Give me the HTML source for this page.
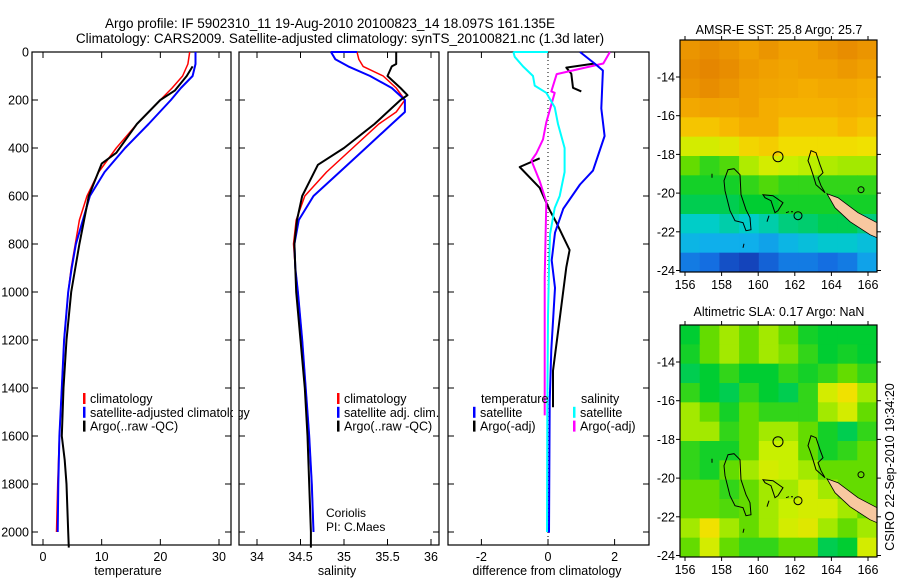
<!DOCTYPE html>
<html><head><meta charset="utf-8"><style>
body{margin:0;background:#fff}
svg{display:block;font-family:"Liberation Sans",sans-serif}
</style></head><body>
<svg id="fig" width="900" height="580" viewBox="0 0 900 580">
<text x="330" y="28" font-size="13.5" text-anchor="middle">Argo profile: IF 5902310_11 19-Aug-2010 20100823_14 18.097S 161.135E</text>
<text x="340" y="43" font-size="13.5" text-anchor="middle">Climatology: CARS2009. Satellite-adjusted climatology: synTS_20100821.nc (1.3d later)</text>
<text x="779" y="34" font-size="12.5" text-anchor="middle">AMSR-E SST: 25.8 Argo: 25.7</text>
<text x="779" y="316" font-size="12.5" text-anchor="middle">Altimetric SLA: 0.17 Argo: NaN</text>
<text transform="translate(894,467) rotate(-90)" font-size="12.5" text-anchor="middle">CSIRO 22-Sep-2010 19:34:20</text>
<text x="326" y="517" font-size="12">Coriolis</text>
<text x="326" y="531" font-size="12">PI: C.Maes</text>
</svg>
<script>
// ---------- data ----------
const depthTicks=[0,200,400,600,800,1000,1200,1400,1600,1800,2000];
const tempTicks=[0,10,20,30];
const salTicks=[34,34.5,35,35.5,36];
const salTickLabels=["34","34.5","35","35.5","36"];
const diffTicks=[-2,0,2];
const lonTicks=[156,158,160,162,164,166];
const latTicks=[-14,-16,-18,-20,-22,-24];

const tClimDepth=[0,50,100,150,200,300,400,500,600,700,800,900,1000,1200,1400,1600,1800,2000];
const tClim=[25,24.7,23.8,22,20,16,12.5,9.5,7.5,6.2,5.5,4.8,4.3,3.6,3.2,2.8,2.5,2.3];
const tSat=[26,26,25.5,23.5,21.8,18,14,10.5,8,6.8,5.6,4.9,4.3,3.6,3.2,2.8,2.6,2.5];
const tArgoDepth=[60,100,160,200,300,420,465,600,700,800,900,1000,1200,1400,1600,1700,1800,2000,2065];
const tArgo=[25.5,24.5,22.5,20,16,12.5,10,7.8,7,6.2,5.5,4.8,4,3.5,3.2,3.7,4,4.3,4.4];

const sDepth=[0,30,60,100,150,200,250,300,400,500,600,700,800,900,1000,1200,1400,1600,1800,2000];
const sClim=[35.15,35.17,35.22,35.45,35.6,35.7,35.6,35.4,35.1,34.8,34.55,34.45,34.42,34.44,34.47,34.52,34.56,34.6,34.63,34.65];
const sSat=[34.85,34.9,35.05,35.3,35.55,35.7,35.7,35.55,35.25,34.95,34.65,34.48,34.43,34.44,34.47,34.52,34.56,34.6,34.63,34.65];
const sArgoDepth=[0,50,60,100,150,180,200,300,400,470,600,700,800,1000,1200,1400,1600,1800,2000,2065];
const sArgo=[35.6,35.6,35.55,35.5,35.65,35.73,35.65,35.35,35.0,34.7,34.52,34.46,34.43,34.45,34.5,34.55,34.58,34.6,34.62,34.62];

const dSalSatDepth=[0,20,60,100,140,170,230,300,400,500,600,650,760,900,1100,1500,2000];
const dSalSat=[-1.04,-1.0,-0.75,-0.45,-0.4,-0.05,0.2,0.3,0.5,0.5,0.35,0.2,0.06,0.03,0.0,-0.02,-0.03];
const dSalArgoDepth=[0,48,92,164,170,293,364,423,452,538,624,940,1514];
const dSalArgo=[1.86,1.66,0.26,0.1,0.2,-0.05,-0.15,-0.35,-0.5,-0.25,-0.05,-0.1,-0.1];
const dTempSatDepth=[0,48,77,235,350,494,552,653,753,868,983,1241,1457,2003];
const dTempSat=[0.96,1.4,1.65,1.6,1.7,1.35,0.96,0.46,0.21,0.11,0.21,0.1,0.05,0.03];
const dTempArgoDepth=[48,65,91,149,164,415,443,479,566,659,710,782,825,897,1112,1328,1480];
const dTempArgo=[1.4,0.55,0.7,0.75,1.0,null,-0.25,-0.85,-0.25,0.05,0.25,0.5,0.65,0.55,0.35,0.15,0.15];

const sstGrid=[
[.88,.9,.88,.85,.88,.85,.85,.88,.9,.88],
[.9,.92,.9,.87,.85,.83,.85,.85,.87,.85],
[.88,.9,.88,.85,.83,.82,.8,.82,.82,.8],
[.82,.84,.83,.85,.8,.78,.78,.78,.8,.78],
[.72,.72,.75,.8,.8,.72,.72,.72,.75,.72],
[.6,.6,.62,.68,.7,.66,.66,.66,.66,.65],
[.5,.45,.48,.56,.6,.58,.57,.56,.55,.55],
[.42,.42,.42,.45,.48,.45,.45,.45,.45,.45],
[.38,.38,.38,.4,.4,.42,.42,.42,.42,.42],
[.3,.3,.32,.3,.32,.35,.36,.38,.38,.35],
[.22,.2,.2,.2,.18,.22,.25,.28,.28,.25],
[.12,.1,.05,.03,.08,.12,.12,.1,.12,.18]];
const slaGrid=[
[.4,.5,.55,.5,.55,.5,.42,.4,.4,.4],
[.42,.5,.55,.5,.55,.52,.45,.4,.42,.4],
[.38,.4,.45,.4,.4,.45,.42,.45,.5,.45],
[.45,.4,.38,.45,.4,.38,.45,.6,.65,.55],
[.55,.5,.42,.5,.45,.45,.45,.55,.6,.5],
[.55,.55,.45,.5,.55,.55,.5,.42,.38,.45],
[.45,.42,.42,.5,.58,.58,.5,.42,.45,.5],
[.45,.42,.5,.55,.6,.58,.55,.5,.5,.5],
[.5,.5,.45,.5,.55,.55,.6,.55,.5,.5],
[.5,.5,.48,.5,.55,.58,.6,.6,.55,.5],
[.55,.65,.55,.5,.55,.6,.62,.55,.5,.55],
[.5,.6,.5,.45,.45,.5,.5,.38,.4,.6]];

// ---------- helpers ----------
const NS="http://www.w3.org/2000/svg";
const svg=document.getElementById('fig');
function mk(tag,attrs,parent){const e=document.createElementNS(NS,tag);for(const k in attrs)e.setAttribute(k,attrs[k]);(parent||svg).appendChild(e);return e;}
const Y0=52,YS=0.24,YB=545;
const yD=d=>Y0+d*YS;
const xT=v=>43+v*5.867;
const xS=v=>257+(v-34)*87;
const xDf=v=>548+v*33.3;

function frame(x1,x2,name){
  const r=mk('rect',{x:x1,y:Y0,width:x2-x1,height:YB-Y0,fill:'none',stroke:'#000','stroke-width':1.2});
  
  
  depthTicks.forEach(d=>{
    const y=yD(d);
    mk('line',{x1:x1,x2:x1+6,y1:y,y2:y,stroke:'#000'});
    mk('line',{x1:x2,x2:x2-6,y1:y,y2:y,stroke:'#000'});
  });
}
function xticks(x1,ticks,labels,fx,name){
  ticks.forEach((v,i)=>{
    const x=fx(v);
    mk('line',{x1:x,x2:x,y1:YB,y2:YB-6,stroke:'#000'});
    mk('line',{x1:x,x2:x,y1:Y0,y2:Y0+6,stroke:'#000'});
    const t=mk('text',{x:x,y:561,'font-size':12.5,'text-anchor':'middle'});
    t.textContent=labels[i];
    
    
  });
}
function series(depths,vals,fx,color,w,name,dash){
  let d='',pen=false;
  vals.forEach((v,i)=>{
    if(v===null){pen=false;return;}
    d+=(pen?'L':'M')+fx(v).toFixed(1)+','+yD(depths[i]).toFixed(1);pen=true;
  });
  const p=mk('path',{d:d,fill:'none',stroke:color,'stroke-width':w,'stroke-linejoin':'round'});
  if(dash)p.setAttribute('stroke-dasharray',dash);
  
  
}
function legend(x,y,entries,name){
  entries.forEach((e,i)=>{
    const yy=y+i*13.8;
    mk('rect',{x:x,y:yy-10,width:2.5,height:11,fill:e[0]});
    const t=mk('text',{x:x+7,y:yy,'font-size':12.5});
    t.textContent=e[1];
    
    
  });
}

depthTicks.forEach(d=>{
  const t=mk('text',{x:29,y:yD(d)+4.5,'font-size':12.5,'text-anchor':'end'});
  t.textContent=d;
  
  
});

// panel 1
frame(32,231,'temperature-panel');
xticks(32,tempTicks,tempTicks.map(String),xT,'temperature');
series(tClimDepth,tClim,xT,'#f00',1.5,'temp-climatology-line');
series(tClimDepth,tSat,xT,'#00f',2,'temp-satellite-line');
series(tArgoDepth,tArgo,xT,'#000',2,'temp-argo-line');
legend(83,403,[['#f00','climatology'],['#00f','satellite-adjusted climatology'],['#000','Argo(..raw -QC)']],'temp-legend');
let lbl=mk('text',{x:128,y:575,'font-size':12.5,'text-anchor':'middle'});lbl.textContent='temperature';



// panel 2
mk('rect',{x:233,y:52,width:6,height:494,fill:'#fff'});
frame(239,439,'salinity-panel');
xticks(239,salTicks,salTickLabels,xS,'salinity');
series(sDepth,sClim,xS,'#f00',1.5,'sal-climatology-line');
series(sDepth,sSat,xS,'#00f',2,'sal-satellite-line');
series(sArgoDepth,sArgo,xS,'#000',2,'sal-argo-line');
mk('line',{x1:xS(34.85),x2:xS(35.15),y1:yD(0),y2:yD(0),stroke:'#00f','stroke-width':2});
legend(337,403,[['#f00','climatology'],['#00f','satellite adj. clim.'],['#000','Argo(..raw -QC)']],'sal-legend');
lbl=mk('text',{x:337,y:575,'font-size':12.5,'text-anchor':'middle'});lbl.textContent='salinity';



// panel 3
frame(448,649,'difference-panel');
xticks(448,diffTicks,diffTicks.map(String),xDf,'difference');
mk('line',{x1:xDf(0),x2:xDf(0),y1:Y0,y2:YB,stroke:'#000','stroke-dasharray':'1,3'});
series(dTempArgoDepth,dTempArgo,xDf,'#000',2,'diff-temp-argo-line');
series(dSalArgoDepth,dSalArgo,xDf,'#f0f',2,'diff-sal-argo-line');
series(dSalSatDepth,dSalSat,xDf,'#0ff',2,'diff-sal-satellite-line');
series(dTempSatDepth,dTempSat,xDf,'#00f',2,'diff-temp-satellite-line');
mk('line',{x1:xDf(-1.04),x2:xDf(0),y1:yD(0),y2:yD(0),stroke:'#0ff','stroke-width':2});
let lt=mk('text',{x:481,y:403,'font-size':12.5});lt.textContent='temperature';


lt=mk('text',{x:581,y:403,'font-size':12.5});lt.textContent='salinity';


legend(473,416.8,[['#00f','satellite'],['#000','Argo(-adj)']],'diff-temp-legend');
legend(573,416.8,[['#0ff','satellite'],['#f0f','Argo(-adj)']],'diff-sal-legend');
lbl=mk('text',{x:547,y:575,'font-size':12.5,'text-anchor':'middle'});lbl.textContent='difference from climatology';



// ---------- maps ----------
const stops=[[0,[20,50,170]],[0.1,[20,110,225]],[0.2,[15,175,235]],[0.3,[0,205,200]],[0.4,[0,205,50]],[0.5,[100,220,0]],[0.58,[200,240,0]],[0.65,[240,225,0]],[0.75,[247,185,0]],[0.85,[240,160,0]],[1,[216,104,0]]];
function cmap(v){
  for(let i=1;i<stops.length;i++){
    if(v<=stops[i][0]){const a=stops[i-1],b=stops[i],t=(v-a[0])/(b[0]-a[0]);
      return 'rgb('+a[1].map((c,k)=>Math.round(c+(b[1][k]-c)*t)).join(',')+')';}
  }
  return 'rgb(216,104,0)';
}
const MX1=680,MX2=877,MH=232;
const xLon=l=>685+(l-156)*18.3;
function drawMap(grid,top,name){
  const g=mk('g',{});
  
  
  const rows=grid.length,cols=grid[0].length,cw=(MX2-MX1)/cols,ch=MH/rows;
  grid.forEach((row,r)=>row.forEach((v,c)=>{
    const cell=mk('rect',{x:MX1+c*cw,y:top+r*ch,width:cw+0.5,height:ch+0.5,fill:cmap(v)},g);
    
    
  }));
  const lat14=top+37;
  const off=lat14-77.3;
  const cg=mk('g',{transform:'translate(0,'+off+')',fill:'none',stroke:'#000','stroke-width':1},g);
  mk('path',{d:'M724,181 L728,170 L734,169 L740,175 L741,195 L746,210 L750,218 L751,230 L746,231 L743,223 L735,221 L730,211 L725,191 Z'},cg);
  mk('path',{d:'M763,195 L773,196 L783,203 L778,211 L775,213 L771,201 L765,198 Z'},cg);
  mk('path',{d:'M808,161 L811,151 L816,153 L820,165 L823,173 L818,178 L821,186 L825,193 L816,185 L813,175 L810,166 Z'},cg);
  mk('circle',{cx:778,cy:157,r:5},cg);
  mk('circle',{cx:798,cy:216,r:4},cg);
  mk('circle',{cx:861,cy:190,r:3},cg);
  mk('path',{d:'M769,216 L767,222 M744,244 L743,248 M712,174 L712,178 M786,213 L789,212 M791,212 L793,212'},cg);
  mk('path',{d:'M827,194 L838,198 L858,213 L877,223 L877,238 L870,235 L850,222 L835,208 Z',fill:'#f8c8a0',stroke:'#000','stroke-width':0.8},cg);
  mk('rect',{x:MX1,y:top,width:MX2-MX1,height:MH,fill:'none',stroke:'#000','stroke-width':1.2},g);
  lonTicks.forEach(l=>{const x=xLon(l);
    mk('line',{x1:x,x2:x,y1:top,y2:top-4,stroke:'#000'},g);
    mk('line',{x1:x,x2:x,y1:top+MH,y2:top+MH+4,stroke:'#000'},g);
    const t=mk('text',{x:x,y:top+MH+17,'font-size':12.5,'text-anchor':'middle'},g);t.textContent=l;
    
    
  });
  latTicks.forEach(la=>{const y=lat14+(-14-la)*19.35;
    mk('line',{x1:MX1,x2:MX1-4,y1:y,y2:y,stroke:'#000'},g);
    mk('line',{x1:MX2,x2:MX2+4,y1:y,y2:y,stroke:'#000'},g);
    const t=mk('text',{x:675,y:y+4.5,'font-size':12.5,'text-anchor':'end'},g);t.textContent=la;
    
    
  });
}
drawMap(sstGrid,40,'sst-map');
drawMap(slaGrid,325,'sla-map');
</script>
</body></html>
